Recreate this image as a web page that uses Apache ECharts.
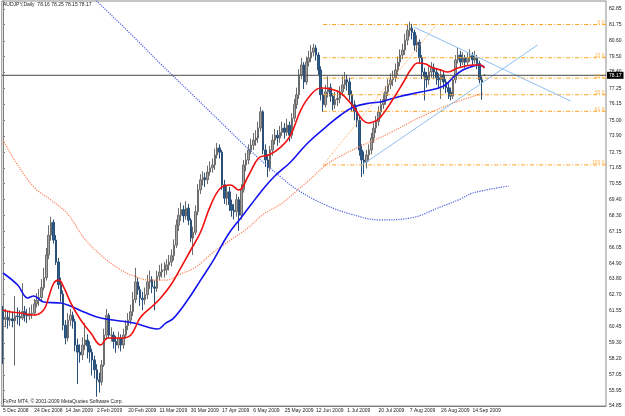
<!DOCTYPE html>
<html>
<head>
<meta charset="utf-8">
<script src="https://cdn.jsdelivr.net/npm/echarts@6/dist/echarts.min.js"></script>
<style>
  html, body { margin: 0; padding: 0; background: #fff; }
  #chart { width: 625px; height: 416px; }
</style>
</head>
<body>
<div id="chart"></div>
<script>
// daily bars, AUDJPY
const dates = [
  '5 Dec 2008','8 Dec 2008','9 Dec 2008','10 Dec 2008','11 Dec 2008','12 Dec 2008','15 Dec 2008','16 Dec 2008','17 Dec 2008','18 Dec 2008',
  '19 Dec 2008','22 Dec 2008','23 Dec 2008','24 Dec 2008','26 Dec 2008','29 Dec 2008','30 Dec 2008','31 Dec 2008',
  '2 Jan 2009','5 Jan 2009','6 Jan 2009','7 Jan 2009','8 Jan 2009','9 Jan 2009','12 Jan 2009','13 Jan 2009','14 Jan 2009','15 Jan 2009',
  '16 Jan 2009','19 Jan 2009','20 Jan 2009','21 Jan 2009','22 Jan 2009','23 Jan 2009','26 Jan 2009','27 Jan 2009','28 Jan 2009','29 Jan 2009','30 Jan 2009',
  '2 Feb 2009','3 Feb 2009','4 Feb 2009','5 Feb 2009','6 Feb 2009','9 Feb 2009','10 Feb 2009','11 Feb 2009','12 Feb 2009','13 Feb 2009',
  '17 Feb 2009','18 Feb 2009','19 Feb 2009','20 Feb 2009','23 Feb 2009','24 Feb 2009','25 Feb 2009','26 Feb 2009','27 Feb 2009',
  '2 Mar 2009','3 Mar 2009','4 Mar 2009','5 Mar 2009','6 Mar 2009','9 Mar 2009','10 Mar 2009','11 Mar 2009','12 Mar 2009','13 Mar 2009',
  '16 Mar 2009','17 Mar 2009','18 Mar 2009','19 Mar 2009','20 Mar 2009','23 Mar 2009','24 Mar 2009','25 Mar 2009','26 Mar 2009','27 Mar 2009','30 Mar 2009','31 Mar 2009',
  '1 Apr 2009','2 Apr 2009','3 Apr 2009','6 Apr 2009','7 Apr 2009','8 Apr 2009','9 Apr 2009','13 Apr 2009','14 Apr 2009','15 Apr 2009',
  '16 Apr 2009','17 Apr 2009','20 Apr 2009','21 Apr 2009','22 Apr 2009','23 Apr 2009','24 Apr 2009','27 Apr 2009','28 Apr 2009','29 Apr 2009','30 Apr 2009',
  '1 May 2009','4 May 2009','5 May 2009','6 May 2009','7 May 2009','8 May 2009','11 May 2009','12 May 2009','13 May 2009','14 May 2009',
  '15 May 2009','18 May 2009','19 May 2009','20 May 2009','21 May 2009','22 May 2009','25 May 2009','26 May 2009','27 May 2009','28 May 2009','29 May 2009',
  '1 Jun 2009','2 Jun 2009','3 Jun 2009','4 Jun 2009','5 Jun 2009','9 Jun 2009','10 Jun 2009','11 Jun 2009','12 Jun 2009','15 Jun 2009',
  '16 Jun 2009','17 Jun 2009','18 Jun 2009','19 Jun 2009','22 Jun 2009','23 Jun 2009','24 Jun 2009','25 Jun 2009','26 Jun 2009','29 Jun 2009','30 Jun 2009',
  '1 Jul 2009','2 Jul 2009','3 Jul 2009','6 Jul 2009','7 Jul 2009','8 Jul 2009','9 Jul 2009','10 Jul 2009','13 Jul 2009','14 Jul 2009',
  '15 Jul 2009','16 Jul 2009','17 Jul 2009','20 Jul 2009','21 Jul 2009','22 Jul 2009','23 Jul 2009','24 Jul 2009','27 Jul 2009','28 Jul 2009',
  '29 Jul 2009','30 Jul 2009','31 Jul 2009',
  '4 Aug 2009','5 Aug 2009','6 Aug 2009','7 Aug 2009','10 Aug 2009','11 Aug 2009','12 Aug 2009','13 Aug 2009','14 Aug 2009','17 Aug 2009',
  '18 Aug 2009','19 Aug 2009','20 Aug 2009','21 Aug 2009','24 Aug 2009','25 Aug 2009','26 Aug 2009','27 Aug 2009','28 Aug 2009','31 Aug 2009',
  '1 Sep 2009','2 Sep 2009','3 Sep 2009','4 Sep 2009','7 Sep 2009','8 Sep 2009','9 Sep 2009','10 Sep 2009','11 Sep 2009','14 Sep 2009',
  '15 Sep 2009','16 Sep 2009','17 Sep 2009','18 Sep 2009','21 Sep 2009'
];

// [open, close, low, high]
const candles = [
  [61.50,60.95,57.80,61.90],[60.95,61.10,60.40,61.70],[61.10,60.90,60.30,61.50],[60.90,61.00,60.50,61.60],[61.00,60.85,60.40,61.50],
  [60.85,61.20,57.70,62.60],[61.20,61.15,60.60,61.80],[61.15,61.05,60.50,61.60],[61.05,61.50,60.90,63.50],[61.50,61.25,60.80,61.90],
  [61.25,61.20,60.70,61.70],[61.20,61.35,60.90,61.80],[61.35,61.40,61.00,62.00],[61.40,62.05,61.20,62.40],[62.05,62.30,61.80,62.80],
  [62.30,62.50,61.90,63.10],[62.50,63.20,62.20,63.80],[63.20,63.90,63.00,64.60],[63.90,65.50,63.70,66.00],[65.50,66.90,65.20,67.60],
  [66.90,67.80,66.50,68.20],[67.80,66.55,66.30,68.00],[66.55,65.00,64.80,66.90],[65.00,63.40,63.10,65.30],[63.40,62.75,62.20,63.90],
  [62.75,60.55,60.20,63.00],[60.55,59.65,59.20,60.90],[59.65,60.90,59.40,61.40],[60.90,61.25,60.50,61.70],[61.25,60.80,60.30,61.50],
  [60.80,59.15,58.70,61.00],[59.15,58.65,56.40,59.60],[58.65,58.45,57.90,59.20],[58.45,59.15,58.10,59.70],[59.15,59.50,58.80,60.70],
  [59.50,59.10,58.20,59.90],[59.10,58.65,57.90,59.40],[58.65,58.10,57.00,58.90],[58.10,57.40,56.80,58.40],[57.40,56.70,55.50,57.80],
  [56.70,56.55,55.80,57.20],[56.55,57.75,56.30,58.10],[57.75,59.85,57.60,60.30],[59.85,61.25,59.50,61.70],[61.25,59.85,59.60,61.40],
  [59.85,59.85,59.40,60.40],[59.85,59.40,58.90,60.10],[59.40,59.15,58.60,59.80],[59.15,59.65,58.90,60.10],[59.65,59.15,58.70,59.90],
  [59.15,59.85,58.90,60.30],[59.85,60.50,59.60,60.90],[60.50,60.90,60.20,61.40],[60.90,61.50,60.60,62.00],[61.50,62.35,61.20,62.90],
  [62.35,63.60,62.10,64.60],[63.60,63.05,62.70,63.90],[63.05,62.45,61.90,63.30],[62.45,62.35,61.60,62.90],[62.35,62.70,62.00,63.20],
  [62.70,63.60,62.40,64.10],[63.60,63.75,63.10,64.40],[63.75,63.25,62.80,64.00],[63.25,63.15,61.60,63.70],[63.15,64.00,62.90,64.40],
  [64.00,64.30,63.70,64.80],[64.30,64.45,63.90,64.90],[64.45,64.45,63.90,65.00],[64.45,64.80,64.10,65.20],[64.80,65.00,64.40,65.50],
  [65.00,65.45,64.70,65.90],[65.45,66.20,65.10,66.60],[66.20,67.60,66.00,68.00],[67.60,68.30,67.20,68.80],[68.30,68.70,67.90,69.20],
  [68.70,68.25,67.80,69.00],[68.25,68.80,68.00,69.30],[68.80,67.95,67.60,69.10],[67.95,66.70,66.40,68.10],[66.70,67.10,65.50,67.50],
  [67.10,68.55,66.90,69.00],[68.55,70.10,68.30,70.50],[70.10,70.80,69.80,71.20],[70.80,70.95,70.40,71.40],[70.95,70.80,70.30,71.30],
  [70.80,71.35,70.50,71.80],[71.35,71.65,71.10,72.10],[71.65,71.85,71.30,72.30],[71.85,72.55,71.50,73.00],[72.55,73.05,72.30,73.40],
  [73.05,72.75,72.30,73.30],[72.75,70.45,70.10,72.90],[70.45,69.50,69.10,70.80],[69.50,69.95,69.00,70.40],[69.95,69.05,68.60,70.30],
  [69.05,68.65,68.20,69.40],[68.65,68.55,68.00,69.10],[68.55,69.40,68.20,69.80],[69.40,68.30,67.20,69.60],[68.30,70.10,68.00,70.50],
  [70.10,71.85,69.90,72.20],[71.85,72.20,71.40,72.70],[72.20,72.90,71.90,73.30],[72.90,73.25,72.60,73.70],[73.25,73.60,72.90,74.10],
  [73.60,73.75,73.20,74.30],[73.75,74.45,73.40,74.90],[74.45,75.60,74.20,75.95],[75.60,72.90,72.60,75.70],[72.90,72.20,71.70,73.30],
  [72.20,71.65,71.00,72.60],[71.65,72.90,71.40,73.20],[72.90,73.60,72.50,74.00],[73.60,73.95,73.30,74.40],[73.95,73.75,73.20,74.30],
  [73.75,74.15,73.40,74.60],[74.15,74.45,73.90,74.90],[74.45,74.15,73.70,74.80],[74.15,74.65,73.90,75.10],[74.65,73.95,73.50,74.90],
  [73.95,75.15,73.70,75.50],[75.15,76.10,74.90,76.50],[76.10,76.80,75.80,77.30],[76.80,78.20,76.50,78.60],[78.20,78.90,77.90,79.40],
  [78.90,77.70,77.20,79.10],[77.70,79.10,77.50,79.50],[79.10,79.40,78.80,79.90],[79.40,79.80,79.10,80.30],[79.80,80.10,79.50,80.40],
  [80.10,79.60,79.20,80.30],[79.60,78.55,78.20,79.80],[78.55,76.80,76.40,78.80],[76.80,76.10,75.60,77.20],[76.10,77.00,75.90,77.50],
  [77.00,77.30,76.60,78.10],[77.30,76.70,76.30,77.60],[76.70,76.10,75.70,76.90],[76.10,76.45,75.80,77.00],[76.45,76.55,76.00,77.10],
  [76.55,77.00,76.20,77.40],[77.00,77.50,76.70,78.10],[77.50,77.85,77.20,78.40],[77.85,77.70,77.10,78.20],[77.70,76.80,76.40,78.00],
  [76.80,76.10,75.60,77.10],[76.10,75.60,75.00,76.40],[75.60,75.00,74.50,75.90],[75.00,72.90,72.50,75.30],[72.90,72.20,71.00,73.30],
  [72.20,72.05,71.20,72.80],[72.05,72.55,71.60,72.90],[72.55,72.90,72.10,73.30],[72.90,73.75,72.60,74.10],[73.75,74.45,73.40,74.80],
  [74.45,74.90,74.10,75.30],[74.90,75.60,74.60,76.00],[75.60,76.10,75.30,76.50],[76.10,76.45,75.80,76.90],[76.45,77.00,76.10,77.40],
  [77.00,77.50,76.70,77.90],[77.50,77.85,77.20,78.30],[77.85,78.00,77.40,78.50],[78.00,78.55,77.70,79.00],[78.55,79.10,78.20,79.50],
  [79.10,79.60,78.80,80.00],[79.60,79.95,79.30,80.40],[79.95,80.65,79.60,81.10],[80.65,81.35,80.30,81.80],[81.35,81.50,80.90,81.95],
  [81.50,81.20,80.70,81.80],[81.20,80.30,79.90,81.40],[80.30,80.50,79.80,81.00],[80.50,79.40,79.00,80.70],[79.40,78.40,77.90,79.60],
  [78.40,78.10,76.40,78.70],[78.10,77.85,77.30,78.40],[77.85,78.40,77.50,78.80],[78.40,78.70,78.00,79.10],[78.70,78.40,77.90,79.00],
  [78.40,78.00,77.50,78.70],[78.00,77.85,77.20,78.30],[77.85,78.20,76.50,78.60],[78.20,77.70,77.20,78.40],[77.70,77.30,76.90,77.90],
  [77.30,77.00,76.50,77.60],[77.00,76.70,76.40,77.30],[76.70,77.85,76.50,78.10],[77.85,79.25,77.60,79.60],[79.25,79.60,79.00,80.10],
  [79.60,79.10,78.70,79.90],[79.10,79.40,78.90,79.80],[79.40,79.10,78.70,79.60],[79.10,79.40,78.90,79.80],[79.40,79.55,79.10,80.00],
  [79.55,79.25,78.90,79.80],[79.25,79.40,79.00,79.90],[79.40,79.00,78.60,79.60],[79.00,77.85,77.60,79.20],[77.85,77.70,76.45,78.10],
  [78.16,78.17,78.15,78.25]
];

// moving averages: [bar, price]
const maRed = [
  [0,61.62],[3.2,61.48],[7.4,61.41],[12.8,61.27],[16.9,61.62],[19,62.54],[21.1,63.52],[23.2,63.73],[25.2,63.24],[28.2,62.11],
  [32.3,60.91],[36.5,59.99],[40.6,59.15],[43.5,59.64],[48.9,59.64],[53.1,59.86],[57.2,61.12],[62.6,61.97],[65.5,62.47],[69.7,63.38],
  [73.8,64.58],[78,65.85],[82.1,67.12],[86.3,69.02],[90.4,70.22],[94.6,70.43],[97.9,70.08],[102.1,71.14],[106.2,72.34],[110.4,72.55],
  [115.4,73.11],[119.5,73.96],[123.7,75.72],[127.8,76.78],[132,77.27],[136.1,77.2],[140.3,76.92],[145.7,75.93],[149.4,75.02],[151.9,74.81],
  [154.8,74.95],[156.9,75.23],[161,76.22],[166.4,77.7],[169.3,78.54],[172.3,79.04],[175.6,78.97],[177.7,78.76],[181.8,78.54],[184.7,78.4],
  [188.9,78.68],[192.2,78.83],[195.5,78.9],[198.4,78.9],[200,78.68]
];
const maBlue = [
  [0,64.23],[6.1,63.38],[10.3,62.47],[12.8,62.61],[16.9,62.18],[24,62.11],[26.9,61.97],[33.6,61.48],[40.6,61.05],[54.3,60.7],
  [61.4,60.35],[64.3,60.28],[67.6,60.7],[70.9,61.05],[76.7,62.32],[82.1,63.73],[87.5,65.15],[93.4,66.91],[98.8,68.11],[102.9,69.02],
  [107.1,69.94],[112.5,71],[119.5,72.06],[126.6,73.4],[134.1,74.52],[140.3,75.37],[145.7,75.93],[152.7,76.22],[156.9,76.29],[164,76.64],
  [173.5,76.99],[183.1,77.42],[187.2,78.05],[191,78.54],[194.3,78.76],[197.6,78.9],[200,78.76]
];
const maSalmon = [
  [0,73.61],[5.3,72.06],[12.8,70.29],[19.9,69.38],[26.9,68.39],[33.6,66.7],[40.6,65.5],[47.7,64.58],[54.3,64.02],[61.4,63.73],
  [67.6,63.73],[73.8,64.16],[80.1,64.65],[87.5,65.71],[94.6,66.56],[101.7,67.4],[108.3,68.39],[115.4,69.09],[122.4,70.08],[129.1,71.07],
  [134.1,71.84],[140.3,72.48],[148.6,73.18],[159.8,74.03],[173.5,75.23],[187.2,76.22],[199.7,76.92]
];
const maLongDotted = [
  [32.3,84.54],[38.5,83.48],[53.1,81.08],[65.5,78.97],[78,76.92],[90.4,74.88],[102.9,72.83],[115.4,71],[122.4,70.08],[134.1,69.02],
  [144.4,68.39],[156.9,67.97],[169.3,68.11],[181.8,68.89],[190.1,69.45],[195.1,69.87],[210,70.36]
];

// drawn objects
const trendDown = [[170.6,81.58],[235.8,76.36]];
const trendUp = [[148.6,71.78],[222.1,80.31]];
const fibDiagonal = [[133,71.85],[180,81.75]];
const fibStart = 133;
const fibPrices = [81.75, 79.41, 77.97, 76.80, 75.63, 71.85];
const fibLabels = ['0.0', '23.6', '38.2', '50.0', '61.8', '100.0'];

const yTicks = [54.85,55.95,57.05,58.20,59.30,60.45,61.55,62.70,63.80,64.90,66.05,67.15,68.30,69.40,70.55,
  71.65,72.75,73.90,75.00,76.15,77.25,78.40,79.50,80.60,81.75,82.85];

const xSlots = 251;       // bar slots incl. the empty shift on the right
const labelStep = 13;     // a date label every 13 bars
const font = '"Liberation Sans", Arial, sans-serif';
const axisDates = dates.concat(new Array(xSlots - dates.length).fill(''));
const last = candles[candles.length - 1];
const fibColor = '#ffa21f';

const chart = echarts.init(document.getElementById('chart'));

function overlay(data, color, width, type, smooth) {
  return {
    type: 'line', xAxisIndex: 1, data, symbol: 'none', smooth: smooth || false,
    lineStyle: { color, width, type: type || 'solid' }, silent: true, z: 3
  };
}

const showLabel = (idx) => idx % labelStep === 0 && idx < dates.length;

chart.setOption({
  animation: false,
  backgroundColor: '#fff',
  title: [
    {
      text: `AUDJPY,Daily  ${last[0].toFixed(2)} ${last[3].toFixed(2)} ${last[2].toFixed(2)} ${last[1].toFixed(2)}`,
      left: 3, top: 2, padding: 0,
      textStyle: { fontSize: 5, fontWeight: 'normal', color: '#222', fontFamily: font }
    },
    {
      text: 'FxPro MT4, © 2001-2009 MetaQuotes Software Corp.',
      left: 3, top: 399, padding: 0,
      textStyle: { fontSize: 5, fontWeight: 'normal', color: '#222', fontFamily: font }
    }
  ],
  grid: { left: 1, right: 19, top: 1, bottom: 10, show: true, borderColor: '#8c8c8c', borderWidth: 1 },
  xAxis: [
    {
      type: 'category', data: axisDates, boundaryGap: true,
      axisLine: { lineStyle: { color: '#808080' } },
      axisTick: { interval: showLabel, alignWithLabel: true, length: 2, lineStyle: { color: '#808080' } },
      axisLabel: { interval: showLabel, align: 'left', margin: 2, fontSize: 5, color: '#222', fontFamily: font },
      splitLine: { show: false }
    },
    { type: 'value', min: -0.5, max: xSlots - 0.5, show: false }
  ],
  yAxis: {
    type: 'value', position: 'right', min: 54.85, max: 83.41,
    axisLine: { show: true, lineStyle: { color: '#808080' } },
    axisTick: { show: true, customValues: yTicks, length: 2, lineStyle: { color: '#808080' } },
    axisLabel: { customValues: yTicks, formatter: (v) => v.toFixed(2), margin: 3, fontSize: 5, color: '#222', fontFamily: font },
    splitLine: { show: false }
  },
  series: [
    ...fibPrices.map((p) => overlay([[fibStart, p], [xSlots - 0.5, p]], fibColor, 1, [4, 2, 1, 2])),
    overlay(fibDiagonal, '#ffae5e', 1, 'dotted'),
    {
      type: 'candlestick', data: candles, barWidth: 2, z: 2,
      itemStyle: { color: '#a4a4a4', borderColor: '#6c6c6c', color0: '#2b5d8d', borderColor0: '#2a4f78', borderWidth: 1 }
    },
    overlay(maSalmon, '#ff8258', 1.2, 'dotted', 0.4),
    overlay(maLongDotted, '#4c60e0', 1.2, 'dotted', 0.4),
    overlay(maBlue, '#1414ee', 1.6, 'solid', 0.4),
    overlay(maRed, '#f01010', 1.6, 'solid', 0.4),
    overlay(trendDown, '#8cc0f2', 1),
    overlay(trendUp, '#8cc0f2', 1),
    {
      ...overlay([[-0.5, last[1]], [xSlots - 0.5, last[1]]], '#4a4a4a', 1),
      endLabel: {
        show: true, formatter: () => last[1].toFixed(2), distance: 1,
        backgroundColor: '#000', color: '#fff', padding: [1, 2], fontSize: 5, fontFamily: font
      }
    },
    {
      type: 'scatter', xAxisIndex: 1, symbolSize: 1, silent: true, z: 4,
      itemStyle: { color: 'rgba(0,0,0,0)' },
      data: fibPrices.map((p, k) => ({ value: [249.7, p], label: { formatter: fibLabels[k] } })),
      label: { show: true, position: 'insideBottomRight', distance: 0, color: fibColor, fontSize: 5, fontFamily: font }
    }
  ]
});
</script>
</body>
</html>
